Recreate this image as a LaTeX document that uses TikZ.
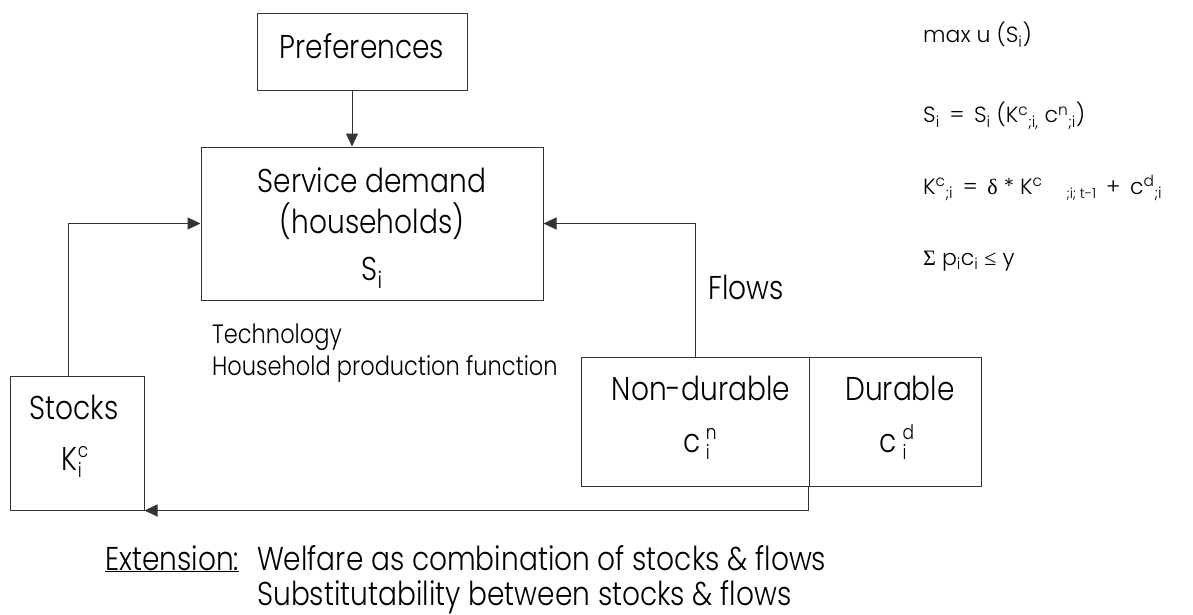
\documentclass[tikz,border=0pt]{standalone}
\usepackage{fontspec}
\setmainfont{Poppins Light}[FakeStretch=0.85]
\newfontfamily\eqf{Poppins Light}
\newfontfamily\symf{Liberation Serif}
\usetikzlibrary{arrows.meta}
\tikzset{
  box/.style={draw=black!80, line width=1pt, inner sep=0pt},
  conn/.style={draw=black!80, line width=1pt, -{Triangle[length=13pt,width=12pt]}},
  txt/.style={anchor=base, inner sep=0pt},
  lft/.style={anchor=base west, inner sep=0pt},
  bigtxt/.style={font=\fontsize{33}{40}\selectfont},
  midtxt/.style={font=\fontsize{26.5}{32}\selectfont},
  exttxt/.style={font=\fontsize{33}{40}\selectfont},
  eqtxt/.style={font=\eqf\fontsize{22}{26}\selectfont, lft},
}
% stacked index: subscript below, superscript above, same column
\newcommand\supsub[2]{\rlap{\raisebox{-7pt}{\fontsize{20}{20}\selectfont #1}}\raisebox{12.5pt}{\fontsize{20}{20}\selectfont #2}}
\newcommand\lowidx[1]{\raisebox{-4pt}{\fontsize{14}{14}\selectfont #1}}
\begin{document}
\begin{tikzpicture}[x=1pt,y=-1pt]
  \useasboundingbox (0,0) rectangle (1193,615);

  % boxes
  \node[box, minimum width=210pt, minimum height=77pt] (pref) at (362,52.5) {};
  \node[box, minimum width=342pt, minimum height=153pt] (serv) at (372,223.5) {};
  \node[box, minimum width=134pt, minimum height=134pt] (stocks) at (77,443) {};
  \node[box, minimum width=228pt, minimum height=129pt] (nondur) at (695,421.5) {};
  \node[box, minimum width=172pt, minimum height=129pt] (dur) at (895,421.5) {};

  % box texts
  \node[txt, bigtxt] (prefT) at (362,59) {Preferences};
  \node[txt, bigtxt] (servT1) at (372,192) {Service demand};
  \node[txt, bigtxt] (servT2) at (372,233) {(households)};
  \node[txt, bigtxt] (servT3) at (372,280) {S\textsubscript{i}};
  \node[txt, bigtxt] (stocksT1) at (74,419) {Stocks};
  \node[txt, bigtxt] (stocksT2) at (75,470) {K\supsub{i}{c}};
  \node[txt, bigtxt] (nondurT1) at (701,400) {Non-durable};
  \node[txt, bigtxt] (nondurT2) at (700,452) {c\,\supsub{i}{n}};
  \node[txt, bigtxt] (durT1) at (900,400) {Durable};
  \node[txt, bigtxt] (durT2) at (897,452) {c\,\supsub{i}{d}};

  % connectors
  \draw[conn] ([xshift=-10pt]pref.south) -- ([xshift=-10pt]pref.south |- serv.north);
  \draw[conn] ([xshift=-9pt]stocks.north) |- (serv.west);
  \draw[conn] (nondur.north) |- (serv.east);
  \draw[conn] (dur.south west) |- (stocks.south east);

  % labels
  \node[lft, bigtxt] (flows) at (708,299) {Flows};
  \node[lft, midtxt] (tech1) at (212,343) {Technology};
  \node[lft, midtxt] (tech2) at (212,375) {Household production function};

  \node[lft, exttxt] (ext) at (105,570) {\underline{Extension:}};
  \node[lft, exttxt] (extA) at (257,570) {Welfare as combination of stocks \& flows};
  \node[lft, exttxt] (extB) at (257,605) {Substitutability between stocks \& flows};

  % model equations
  \node[eqtxt] (eq1) at (923,43) {max u (S\textsubscript{i})};
  \node[eqtxt] (eq2) at (923,123) {S\textsubscript{i} \,=\, S\textsubscript{i} (K\textsuperscript{c}\textsubscript{;i,} c\textsuperscript{n}\textsubscript{;i})};
  \node[eqtxt] (eq3) at (923,194) {K\textsuperscript{c}\textsubscript{;i} \,=\, {\symf δ} * K\textsuperscript{c}\hspace{24pt}\lowidx{;i; t-1} \,+\, c\textsuperscript{d}\textsubscript{;i}};
  \node[eqtxt] (eq4) at (923,265) {{\symf Σ} p\textsubscript{i}c\textsubscript{i} {\symf ≤} y};
\end{tikzpicture}
\end{document}
